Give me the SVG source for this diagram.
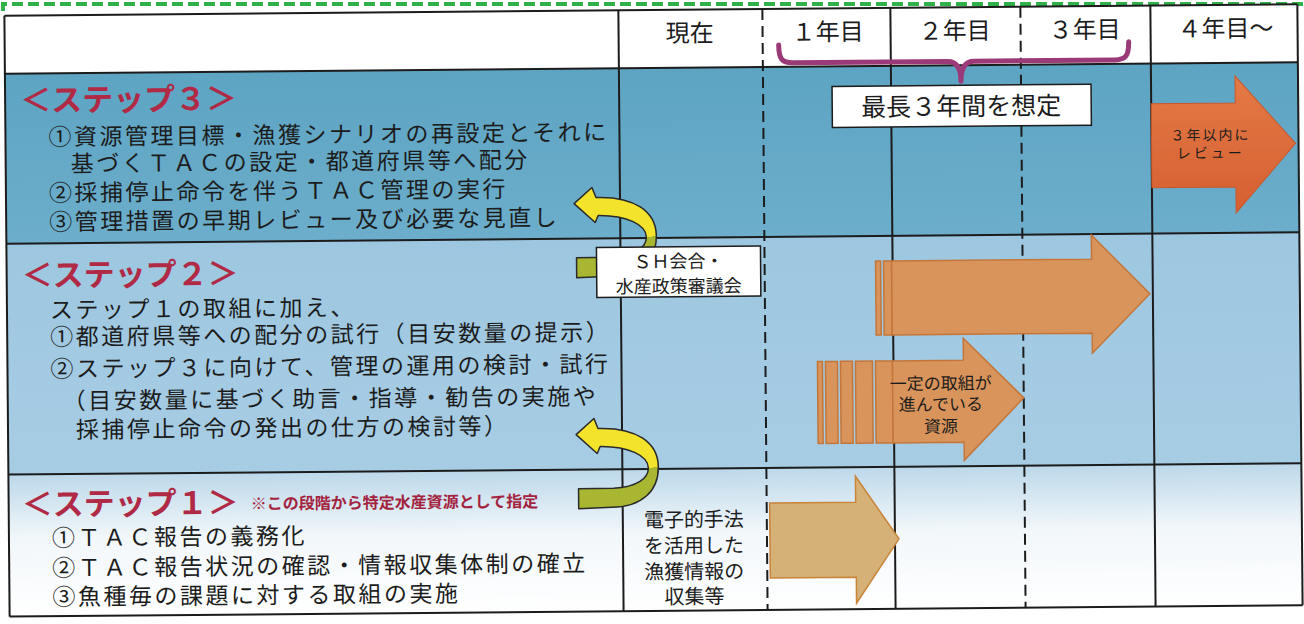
<svg xmlns="http://www.w3.org/2000/svg" width="1304" height="624" viewBox="0 0 1304 624">
<defs>
<style>
.jp{font-family:"Noto Sans CJK JP","Noto Sans CJK SC",sans-serif;fill:#1c1c1c}
.t25{font-size:23px;letter-spacing:2.5px}
.lbl{font-size:31px;fill:#b02a45;font-weight:700}
.hdr{font-size:24px;text-anchor:middle}
.grid{stroke:#1c1c1c;stroke-width:2;fill:none}
.dash{stroke-dasharray:11 6}
.brown{fill:#d8945b;stroke:#c4763a;stroke-width:1.5}
.tan{fill:#d6b177;stroke:#c8843a;stroke-width:1.5}
.mid{text-anchor:middle}
</style>
<linearGradient id="g3" x1="0" y1="0" x2="0" y2="1"><stop offset="0" stop-color="#5da4c3"/><stop offset="1" stop-color="#6caecb"/></linearGradient>
<linearGradient id="g2" x1="0" y1="0" x2="0" y2="1"><stop offset="0" stop-color="#9dc7e0"/><stop offset="1" stop-color="#a7cde4"/></linearGradient>
<linearGradient id="g1" x1="0" y1="0" x2="0" y2="1"><stop offset="0" stop-color="#bcd8ea"/><stop offset="0.45" stop-color="#f2f7fa"/><stop offset="1" stop-color="#ffffff"/></linearGradient>
<linearGradient id="gor" x1="0" y1="0" x2="0" y2="1"><stop offset="0" stop-color="#e37a46"/><stop offset="1" stop-color="#d65f31"/></linearGradient>
<linearGradient id="gcurve" x1="0" y1="0" x2="0" y2="1"><stop offset="0.55" stop-color="#f3e32b"/><stop offset="0.55" stop-color="#a8b632"/></linearGradient>
<path id="uarrow" d="M577,487 L612,487 C636,486 647,477 647,467 C647,455 628,445 599,445 L596,452 L575,433 L593,417 L597,427 C636,426 657,442 657,466 C657,490 640,506 610,506 L577,507 Z" fill="url(#gcurve)" stroke="#2a2a2a" stroke-width="1.5" stroke-linejoin="round"/>
</defs>

<path d="M3,11 L3,4 L1304,4" fill="none" stroke="#2fb24a" stroke-width="4" stroke-dasharray="11 5"/>

<g transform="rotate(-0.5 652 312)">
  <g id="backgrounds">
    <rect x="7" y="10" width="1293" height="58" fill="#ffffff"/>
    <rect x="7" y="68" width="1293" height="170" fill="url(#g3)"/>
    <rect x="7" y="238" width="1293" height="231" fill="url(#g2)"/>
    <rect x="7" y="469" width="1293" height="142" fill="url(#g1)"/>
  </g>

  <g id="grid">
    <line class="grid" x1="7" y1="10" x2="1300" y2="10"/>
    <line class="grid" x1="7" y1="68" x2="1300" y2="68" stroke-width="4"/>
    <line class="grid" x1="7" y1="238" x2="1300" y2="238" stroke-width="2.5"/>
    <line class="grid" x1="7" y1="469" x2="1300" y2="469" stroke-width="2.5"/>
    <line class="grid" x1="7" y1="611" x2="1300" y2="611" stroke-width="2.5"/>
    <line class="grid" x1="7" y1="10" x2="7" y2="611"/>
    <line class="grid" x1="621" y1="10" x2="621" y2="611"/>
    <line class="grid dash" x1="765" y1="10" x2="765" y2="611"/>
    <line class="grid" x1="893" y1="10" x2="893" y2="611"/>
    <line class="grid dash" x1="1023" y1="10" x2="1023" y2="611"/>
    <line class="grid" x1="1153" y1="10" x2="1153" y2="611"/>
    <line class="grid" x1="1300" y1="10" x2="1300" y2="611"/>
  </g>

  <g id="header">
    <text class="jp hdr" x="692" y="42">現在</text>
    <text class="jp hdr" x="830" y="42">１年目</text>
    <text class="jp hdr" x="957" y="42">２年目</text>
    <text class="jp hdr" x="1087" y="42">３年目</text>
    <text class="jp hdr" x="1228" y="42">４年目～</text>
  </g>

  <g id="brace">
    <path d="M781,46 C781,60 784,64 795,64 L950,64 C958,64 963,70 963,84 C963,70 968,64 976,64 L1117,64 C1128,64 1131,60 1131,46" fill="none" stroke="#9b3a79" stroke-width="5" stroke-linecap="round" stroke-linejoin="round"/>
  </g>
  <g id="period-box">
    <rect x="834" y="88" width="259" height="41" fill="#ffffff" stroke="#1c1c1c" stroke-width="1.5"/>
    <text class="jp mid" x="963" y="118" font-size="25">最長３年間を想定</text>
  </g>

  <g id="step3">
    <text class="jp lbl" x="22" y="106">＜ステップ３＞</text>
    <text class="jp t25" x="50" y="140">①資源管理目標・漁獲シナリオの再設定とそれに</text>
    <text class="jp t25" x="72" y="167">基づくＴＡＣの設定・都道府県等へ配分</text>
    <text class="jp t25" x="50" y="196">②採捕停止命令を伴うＴＡＣ管理の実行</text>
    <text class="jp t25" x="50" y="225">③管理措置の早期レビュー及び必要な見直し</text>
  </g>

  <g id="step2">
    <text class="jp lbl" x="22" y="281">＜ステップ２＞</text>
    <text class="jp t25" x="50" y="313">ステップ１の取組に加え、</text>
    <text class="jp t25" x="50" y="340">①都道府県等への配分の試行（目安数量の提示）</text>
    <text class="jp t25" x="50" y="372">②ステップ３に向けて、管理の運用の検討・試行</text>
    <text class="jp t25" x="62" y="404">（目安数量に基づく助言・指導・勧告の実施や</text>
    <text class="jp t25" x="75" y="433">採捕停止命令の発出の仕方の検討等）</text>
  </g>

  <g id="step1">
    <text class="jp lbl" x="20" y="510">＜ステップ１＞</text>
    <text class="jp" x="249" y="506" font-size="16" font-weight="700" style="fill:#a3233e">※この段階から特定水産資源として指定</text>
    <text class="jp t25" x="50" y="541">①ＴＡＣ報告の義務化</text>
    <text class="jp t25" x="50" y="571">②ＴＡＣ報告状況の確認・情報収集体制の確立</text>
    <text class="jp t25" x="50" y="600">③魚種毎の課題に対する取組の実施</text>
  </g>

  <g id="connectors">
    <use href="#uarrow" transform="translate(0,-230)"/>
    <use href="#uarrow" transform="translate(0,1)"/>
  </g>

  <g id="sh-box">
    <rect x="597" y="247" width="164" height="50" fill="#ffffff" stroke="#1c1c1c" stroke-width="1.5"/>
    <text class="jp mid" x="679" y="268" font-size="18">ＳＨ会合・</text>
    <text class="jp mid" x="679" y="293" font-size="18">水産政策審議会</text>
  </g>

  <g id="review-arrow">
    <path d="M1153,108 L1237,108 L1237,81 L1297,149 L1237,218 L1237,192 L1153,192 Z" fill="url(#gor)" stroke="#c9572b" stroke-width="1"/>
    <text class="jp mid" x="1212" y="145" font-size="14" letter-spacing="2">３年以内に</text>
    <text class="jp mid" x="1212" y="163" font-size="14" letter-spacing="3">レビュー</text>
  </g>

  <g id="step2-arrow">
    <rect class="brown" x="876" y="263" width="5" height="74"/>
    <rect class="brown" x="884" y="263" width="8" height="74"/>
    <path class="brown" d="M892,263 L1092,263 L1092,239 L1150,298 L1092,357 L1092,337 L892,337 Z"/>
  </g>

  <g id="advanced-arrow">
    <rect class="brown" x="817" y="363" width="5" height="82"/>
    <rect class="brown" x="825" y="363" width="12" height="82"/>
    <rect class="brown" x="840" y="363" width="12" height="82"/>
    <rect class="brown" x="855" y="363" width="17" height="82"/>
    <rect class="brown" x="875" y="363" width="17" height="82"/>
    <path class="brown" d="M892,363 L963,363 L963,341 L1023,401 L963,463 L963,445 L892,445 Z"/>
    <text class="jp mid" x="940" y="392" font-size="17">一定の取組が</text>
    <text class="jp mid" x="940" y="413" font-size="17">進んでいる</text>
    <text class="jp mid" x="940" y="435" font-size="17">資源</text>
  </g>

  <g id="step1-arrow">
    <path class="tan" d="M768,504 L854,504 L854,478 L897,541 L854,605 L854,579 L768,579 Z"/>
  </g>

  <g id="current-note">
    <text class="jp mid" x="692" y="527" font-size="20">電子的手法</text>
    <text class="jp mid" x="692" y="553" font-size="20">を活用した</text>
    <text class="jp mid" x="692" y="579" font-size="20">漁獲情報の</text>
    <text class="jp mid" x="692" y="604" font-size="20">収集等</text>
  </g>
</g>
</svg>
